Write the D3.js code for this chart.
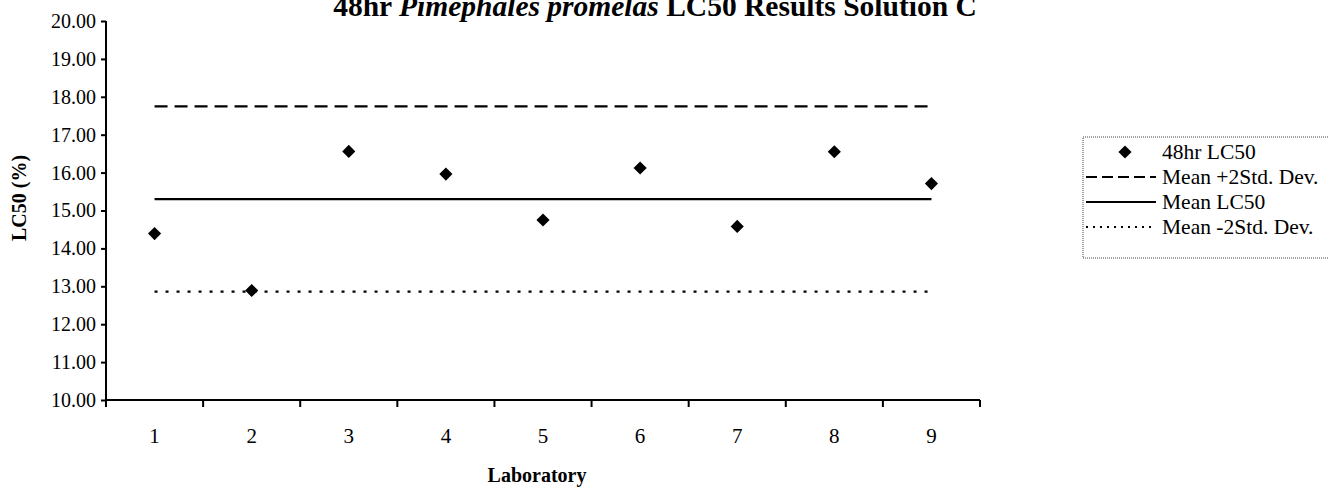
<!DOCTYPE html>
<html>
<head>
<meta charset="utf-8">
<script src="https://cdn.jsdelivr.net/npm/d3@7"></script>
<style>
    body { margin: 0; background: #fff; }
    svg { display: block; }
    text { font-family: "Liberation Serif", "Times New Roman", serif; fill: #000; }
</style>
</head>
<body>
<svg width="1329" height="494"></svg>
<script>
// Chart values
const laboratories = [1, 2, 3, 4, 5, 6, 7, 8, 9];
const lc50Values = [14.39, 12.89, 16.56, 15.96, 14.75, 16.12, 14.58, 16.55, 15.71];
const upperValues = [17.75, 17.75, 17.75, 17.75, 17.75, 17.75, 17.75, 17.75, 17.75];
const meanValues = [15.30, 15.30, 15.30, 15.30, 15.30, 15.30, 15.30, 15.30, 15.30];
const lowerValues = [12.86, 12.86, 12.86, 12.86, 12.86, 12.86, 12.86, 12.86, 12.86];
const yTicks = [10, 11, 12, 13, 14, 15, 16, 17, 18, 19, 20];
const legendLabels = ['48hr LC50', 'Mean +2Std. Dev.', 'Mean LC50', 'Mean -2Std. Dev.'];

// Plot area
const plotLeft = 106, plotRight = 980, plotTop = 21, plotBottom = 400;

const svg = d3.select('svg');

const x = d3.scaleBand()
    .domain(laboratories)
    .range([plotLeft, plotRight]);

const y = d3.scaleLinear()
    .domain([10, 20])
    .range([plotBottom, plotTop]);

// Title (top is clipped in the original)
const title = svg.append('text')
    .attr('x', 655)
    .attr('y', 16)
    .attr('text-anchor', 'middle')
    .attr('font-size', 29.5)
    .attr('font-weight', 'bold');
title.append('tspan').text('48hr ');
title.append('tspan').attr('font-style', 'italic').text('Pimephales promelas');
title.append('tspan').text(' LC50 Results Solution C');

// Y axis
const yAxis = svg.append('g')
    .attr('transform', `translate(${plotLeft},0)`)
    .call(d3.axisLeft(y).tickValues(yTicks).tickFormat(d3.format('.2f')).tickSize(5).tickPadding(5));
yAxis.selectAll('text').attr('font-size', 20);
yAxis.selectAll('line, path').attr('stroke', '#000').attr('stroke-width', 2);
yAxis.select('path').attr('d', `M0,${plotTop}V${plotBottom}`);

// X axis - ticks sit on band edges, labels in band centres
const xAxis = svg.append('g')
    .attr('transform', `translate(0,${plotBottom})`);
xAxis.append('line')
    .attr('x1', plotLeft).attr('x2', plotRight)
    .attr('stroke', '#000').attr('stroke-width', 2);
xAxis.selectAll('line.tick')
    .data(laboratories.concat([null]))
    .join('line')
    .attr('class', 'tick')
    .attr('x1', (d, i) => i < laboratories.length ? x(d) : plotRight)
    .attr('x2', (d, i) => i < laboratories.length ? x(d) : plotRight)
    .attr('y1', 0).attr('y2', 7)
    .attr('stroke', '#000').attr('stroke-width', 2);
xAxis.selectAll('text')
    .data(laboratories)
    .join('text')
    .attr('x', d => x(d) + x.bandwidth() / 2)
    .attr('y', 43)
    .attr('text-anchor', 'middle')
    .attr('font-size', 21)
    .text(d => d);

// Axis titles
svg.append('text')
    .attr('x', 537)
    .attr('y', 482)
    .attr('text-anchor', 'middle')
    .attr('font-size', 20)
    .attr('font-weight', 'bold')
    .text('Laboratory');

svg.append('text')
    .attr('transform', 'translate(26,198) rotate(-90)')
    .attr('text-anchor', 'middle')
    .attr('font-size', 20)
    .attr('font-weight', 'bold')
    .text('LC50 (%)');

// Reference lines
const line = d3.line()
    .x((d, i) => x(laboratories[i]) + x.bandwidth() / 2)
    .y(d => y(d));

const lineStyles = [
    { values: upperValues, dash: '13,7', legendDash: '11,5' },
    { values: meanValues, dash: null, legendDash: null },
    { values: lowerValues, dash: '3,8', legendDash: '2,5' }
];

svg.selectAll('path.ref')
    .data(lineStyles)
    .join('path')
    .attr('class', 'ref')
    .attr('d', d => line(d.values))
    .attr('fill', 'none')
    .attr('stroke', '#000')
    .attr('stroke-width', 2.2)
    .attr('stroke-dasharray', d => d.dash);

// Points
const diamond = d3.symbol().type(d3.symbolDiamond2).size(110);
svg.selectAll('path.point')
    .data(lc50Values)
    .join('path')
    .attr('class', 'point')
    .attr('transform', (d, i) => `translate(${x(laboratories[i]) + x.bandwidth() / 2},${y(d)})`)
    .attr('d', diamond)
    .attr('fill', '#000');

// Legend
const legend = svg.append('g');
legend.append('rect')
    .attr('x', 1083).attr('y', 137)
    .attr('width', 260).attr('height', 121)
    .attr('fill', 'none')
    .attr('stroke', '#444')
    .attr('stroke-width', 1)
    .attr('stroke-dasharray', '1,1');

const rowY = [152, 177, 202, 227];
const rows = legend.selectAll('g.row')
    .data(legendLabels)
    .join('g')
    .attr('class', 'row')
    .attr('transform', (d, i) => `translate(0,${rowY[i]})`);

rows.append('text')
    .attr('x', 1162)
    .attr('y', 7)
    .attr('font-size', 21.5)
    .text(d => d);

rows.filter((d, i) => i === 0)
    .append('path')
    .attr('transform', 'translate(1125,0)')
    .attr('d', diamond)
    .attr('fill', '#000');

rows.filter((d, i) => i > 0)
    .append('line')
    .attr('x1', 1086).attr('x2', 1156)
    .attr('stroke', '#000')
    .attr('stroke-width', 2)
    .attr('stroke-dasharray', (d, i) => lineStyles[i].legendDash);
</script>
</body>
</html>
